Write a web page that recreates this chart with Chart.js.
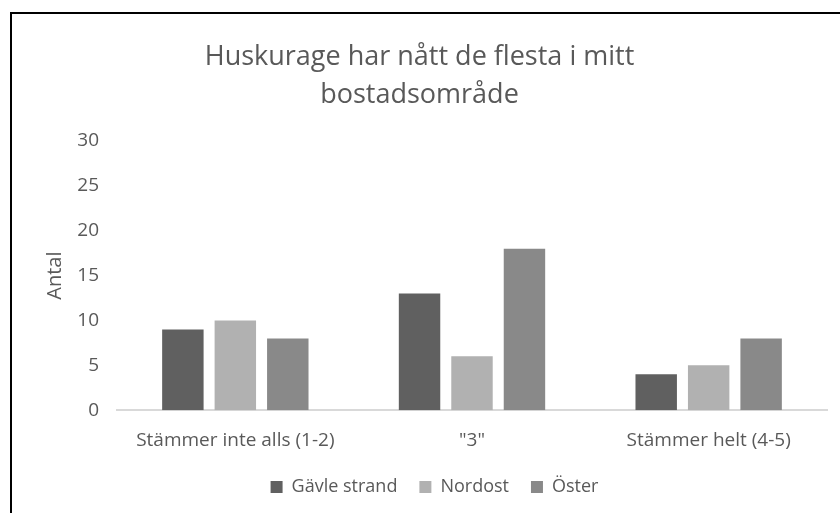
<!DOCTYPE html>
<html>
<head>
<meta charset="utf-8">
<script src="https://cdn.jsdelivr.net/npm/chart.js@4.4.0/dist/chart.umd.min.js"></script>
<style>
  html, body { margin: 0; padding: 0; background: #fff; overflow: hidden; }
  #frame {
    position: absolute;
    left: 10px;
    top: 12px;
    width: 830px;
    height: 510px;
    border-top: 2px solid #000;
    border-left: 2px solid #000;
  }
  #chart { display: block; }
</style>
</head>
<body>
<div id="frame"><canvas id="chart" width="828" height="495"></canvas></div>
<script>
// Data
const categories = ['Stämmer inte alls (1-2)', '"3"', 'Stämmer helt (4-5)'];
const seriesNames = ['Gävle strand', 'Nordost', 'Öster'];
const gavleStrand = [9, 13, 4];
const nordost = [10, 6, 5];
const oster = [8, 18, 8];
const seriesColors = ['#606060', '#b1b1b1', '#898989'];
const titleLines = ['Huskurage har nått de flesta i mitt', 'bostadsområde'];
const yTitle = 'Antal';

const textColor = '#595959';
const fontFamily = '"Open Sans", sans-serif';

function makeDataset(name, values, color) {
    return {
        label: name,
        data: values,
        backgroundColor: color,
        borderWidth: 0,
        categoryPercentage: 0.665,
        barPercentage: 0.79
    };
}

// nudge the legend a bit right, like the original sheet
const legendShift = {
    id: 'legendShift',
    afterLayout(chart) {
        chart.legend.left += 15;
        chart.legend.right += 15;
    }
};

const ctx = document.getElementById('chart').getContext('2d');

new Chart(ctx, {
    type: 'bar',
    data: {
        labels: categories,
        datasets: [
            makeDataset(seriesNames[0], gavleStrand, seriesColors[0]),
            makeDataset(seriesNames[1], nordost, seriesColors[1]),
            makeDataset(seriesNames[2], oster, seriesColors[2])
        ]
    },
    plugins: [legendShift],
    options: {
        responsive: false,
        animation: false,
        layout: {
            padding: { left: 0, right: 13, top: 14, bottom: 3 }
        },
        plugins: {
            title: {
                display: true,
                text: titleLines,
                color: textColor,
                font: { family: fontFamily, size: 27, weight: 'normal', lineHeight: 1.407 },
                padding: { top: 10, bottom: 27 }
            },
            legend: {
                position: 'bottom',
                labels: {
                    color: textColor,
                    font: { family: fontFamily, size: 18 },
                    boxWidth: 12,
                    boxHeight: 12,
                    padding: 22
                }
            },
            tooltip: { enabled: false }
        },
        scales: {
            x: {
                grid: { display: false, drawTicks: false },
                border: { display: true, color: '#d9d9d9', width: 2 },
                ticks: {
                    color: textColor,
                    font: { family: fontFamily, size: 19 },
                    padding: 19
                },
                afterFit: function(scale) {
                    scale.height -= 15;
                }
            },
            y: {
                min: 0,
                max: 30,
                grid: { display: false, drawTicks: false },
                border: { display: false },
                ticks: {
                    stepSize: 5,
                    color: textColor,
                    font: { family: fontFamily, size: 19 },
                    padding: 18
                },
                title: {
                    display: true,
                    text: yTitle,
                    color: textColor,
                    font: { family: fontFamily, size: 20 },
                    padding: { top: 31, bottom: 0 }
                },
                afterFit: function(scale) {
                    scale.width = 105;
                }
            }
        }
    }
});
</script>
</body>
</html>
